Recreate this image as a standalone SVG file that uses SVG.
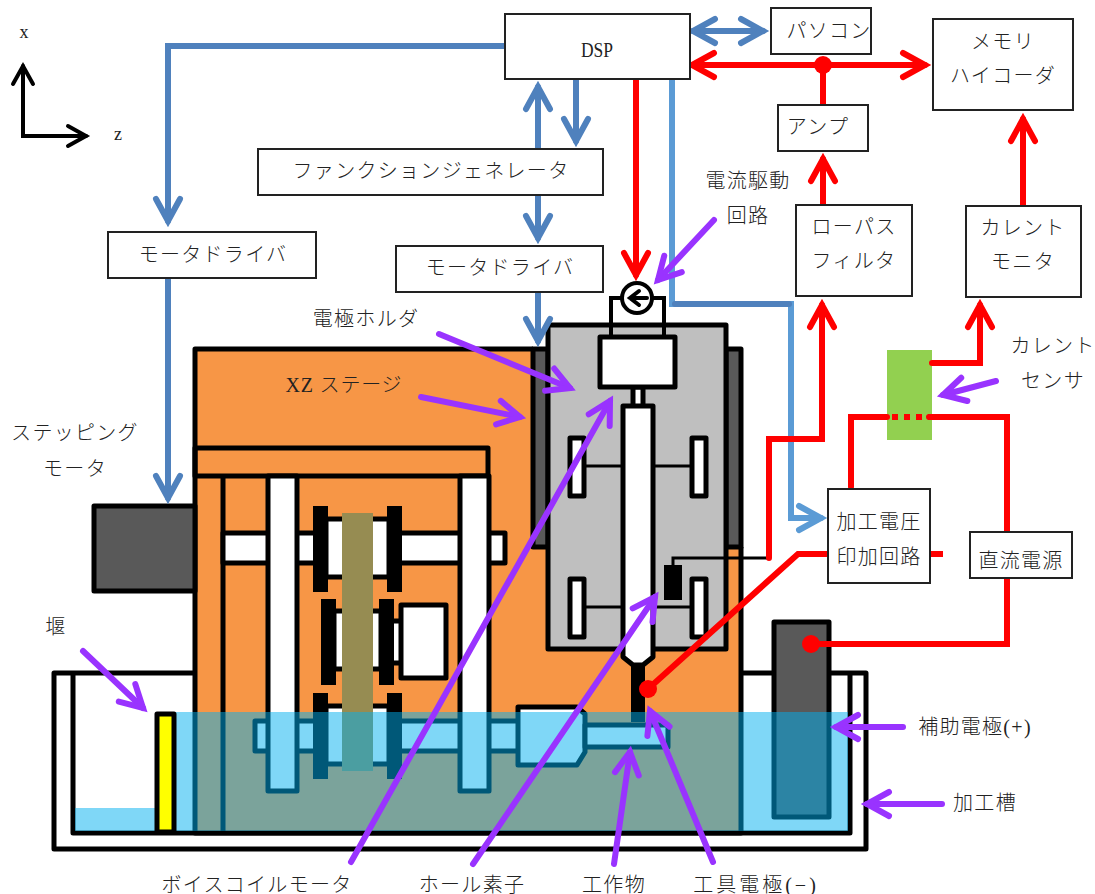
<svg xmlns="http://www.w3.org/2000/svg" width="1095" height="894" viewBox="0 0 1095 894">
<defs>
<style>
text{font-family:"Liberation Serif","Noto Sans CJK JP",serif;fill:#222;font-size:20px;text-anchor:middle;font-weight:300;letter-spacing:1.3px}
.box{fill:#fff;stroke:#222;stroke-width:2}
.k{stroke:#000;stroke-width:5;stroke-linejoin:round}
.w{fill:#fff}
.o{fill:#f79646}
.g{fill:#595959}
.b{fill:#000}
.n{fill:none}
.blue{fill:none;stroke:#4f81bd;stroke-width:6;stroke-linecap:round;stroke-linejoin:miter}
.lblue{fill:none;stroke:#5b9bd5;stroke-width:6;stroke-linecap:round;stroke-linejoin:miter}
.red{fill:none;stroke:#f00;stroke-width:6;stroke-linecap:round;stroke-linejoin:miter}
.pur{fill:none;stroke:#9933ff;stroke-width:6;stroke-linecap:round;marker-end:url(#ap)}
.blk{fill:none;stroke:#000;stroke-width:4;stroke-linecap:round}
.thin{fill:none;stroke:#000;stroke-width:3}
</style>
<marker id="ab" markerUnits="userSpaceOnUse" markerWidth="1" markerHeight="1" refX="0" refY="0" orient="auto-start-reverse" overflow="visible"><path d="M-22,-12L0,0L-22,12" fill="none" stroke="#4f81bd" stroke-width="6" stroke-linecap="round" stroke-miterlimit="6"/></marker>
<marker id="al" markerUnits="userSpaceOnUse" markerWidth="1" markerHeight="1" refX="0" refY="0" orient="auto-start-reverse" overflow="visible"><path d="M-22,-12L0,0L-22,12" fill="none" stroke="#5b9bd5" stroke-width="6" stroke-linecap="round" stroke-miterlimit="6"/></marker>
<marker id="ar" markerUnits="userSpaceOnUse" markerWidth="1" markerHeight="1" refX="0" refY="0" orient="auto-start-reverse" overflow="visible"><path d="M-22,-12L0,0L-22,12" fill="none" stroke="#f00" stroke-width="6" stroke-linecap="round" stroke-miterlimit="6"/></marker>
<marker id="ap" markerUnits="userSpaceOnUse" markerWidth="1" markerHeight="1" refX="0" refY="0" orient="auto-start-reverse" overflow="visible"><path d="M-22,-12L0,0L-22,12" fill="none" stroke="#9933ff" stroke-width="6" stroke-linecap="round" stroke-miterlimit="6"/></marker>
<marker id="ak" markerUnits="userSpaceOnUse" markerWidth="1" markerHeight="1" refX="0" refY="0" orient="auto-start-reverse" overflow="visible"><path d="M-18,-10L0,0L-18,10" fill="none" stroke="#000" stroke-width="4" stroke-linecap="round" stroke-miterlimit="6"/></marker>
</defs>

<g id="axes">
<path class="blk" d="M23,66V136H86" marker-start="url(#ak)" marker-end="url(#ak)"/>
<text x="24" y="38" style="font-size:18px;letter-spacing:0">x</text>
<text x="118" y="140" style="font-size:18px;letter-spacing:0">z</text>
</g>

<g id="tank">
<path class="w" d="M54,673H866V849H54Z"/>
<path class="n k" d="M195,673H54V849H866V673H741M73,673V833H850V673"/>
</g>

<g id="stage">
<rect class="o" x="195" y="349" width="546" height="484"/>
<path class="g k" d="M533,349H548V547H533Z"/>
<path class="g k" d="M726,349H741V547H726Z"/>
<path class="n k" d="M533,349H195V833H741V547"/>
<path class="n k" d="M195,448H488V476H195ZM223,476V833"/>
</g>

<g id="stepping-motor">
<rect class="g k" x="94" y="506" width="101" height="85"/>
</g>

<g id="shafts">
<rect class="w k" x="223" y="533" width="282" height="30"/>
<rect class="w k" x="255" y="721" width="265" height="30"/>
<rect class="w k" x="268" y="476" width="29" height="315"/>
<rect class="w k" x="460" y="476" width="29" height="315"/>
</g>

<g id="voice-coil-stage">
<rect class="w k" x="326" y="519" width="63" height="58"/>
<rect class="b" x="313" y="506" width="15" height="86"/>
<rect class="b" x="387" y="506" width="15" height="86"/>
<rect class="w k" x="390" y="621" width="14" height="42"/>
<rect class="w k" x="334" y="611" width="47" height="58"/>
<rect class="b" x="321" y="599" width="15" height="86"/>
<rect class="b" x="379" y="599" width="15" height="86"/>
<rect class="w k" x="401" y="605" width="45" height="73"/>
<rect class="w k" x="326" y="706" width="63" height="58"/>
<rect class="b" x="313" y="693" width="15" height="86"/>
<rect class="b" x="387" y="693" width="15" height="86"/>
<rect fill="#968c52" x="342" y="513" width="31" height="258"/>
</g>

<g id="workpiece">
<path class="w k" d="M518,707H577L585,714V752L577,765H518Z"/>
<rect class="w k" x="585" y="725" width="83" height="22"/>
</g>

<g id="electrode-holder">
<rect fill="#bfbfbf" class="k" x="548" y="325" width="178" height="324"/>
<rect class="w k" x="570" y="438" width="14" height="58"/>
<rect class="w k" x="692" y="438" width="14" height="58"/>
<rect class="w k" x="570" y="579" width="14" height="58"/>
<rect class="w k" x="692" y="579" width="14" height="58"/>
<path class="thin" d="M584,466H623M653,466H692M584,607H623M653,607H692"/>
<rect class="b" x="631" y="660" width="14" height="62"/>
<rect class="w k" x="633" y="387" width="10" height="20"/>
<path class="w k" d="M623,406H653V657L643,665H633L623,657Z"/>
<rect class="w k" x="600" y="337" width="75" height="50"/>
<rect class="b" x="664" y="565" width="18" height="35"/>
<path class="thin" d="M673,565V558H769"/>
<path class="n" stroke="#000" stroke-width="4" d="M611,337V298H664V337"/>
<circle class="w" stroke="#000" stroke-width="4" cx="637" cy="298" r="15"/>
<path class="blk" d="M647,298H630M639,291L630,298L639,305"/>
</g>

<g id="aux-electrode">
<rect class="g k" x="774" y="622" width="55" height="195"/>
</g>

<g id="water">
<path fill="#00b0f0" fill-opacity="0.5" d="M176,712H848V831H176ZM75,808H155V831H75Z"/>
</g>

<g id="dam">
<rect fill="#ff0" class="k" x="157" y="714" width="17" height="118"/>
</g>

<g id="current-sensor">
<rect fill="#92d050" x="887" y="350" width="45" height="90"/>
</g>

<g id="connectors">
<path class="blue" d="M505,46H168V221" marker-end="url(#ab)"/>
<path class="blue" d="M168,278V498" marker-end="url(#ab)"/>
<path class="blue" d="M693,31H763" marker-start="url(#ab)" marker-end="url(#ab)"/>
<path class="blue" d="M538,149V87" marker-end="url(#ab)"/>
<path class="blue" d="M576,79V141" marker-end="url(#ab)"/>
<path class="blue" d="M538,195V238" marker-end="url(#ab)"/>
<path class="blue" d="M538,292V341" marker-end="url(#ab)"/>
<path class="lblue" d="M672,79V304H791V518H821" marker-end="url(#al)"/>
<path class="blue" d="M675,304H789"/>
<path class="red" d="M692,65H925" marker-start="url(#ar)" marker-end="url(#ar)"/>
<circle fill="#f00" cx="823" cy="65" r="9"/>
<path class="red" d="M823,65V105"/>
<path class="red" d="M823,205V159" marker-end="url(#ar)"/>
<path class="red" d="M1023,205V119" marker-end="url(#ar)"/>
<path class="red" d="M636,79V275" marker-end="url(#ar)"/>
<path class="red" d="M769,558V439H822V305" marker-end="url(#ar)"/>
<path class="red" d="M932,363H980V305" marker-end="url(#ar)"/>
<path class="red" d="M851,487V417H887"/>
<path class="red" d="M929,417H1007V532"/>
<path fill="#f00" d="M892,414h6v6h-6zM904,414h6v6h-6zM916,414h6v6h-6zM928,414h4v6h-4z"/>
<path class="red" d="M828,554H798L648,689"/>
<circle fill="#f00" cx="648" cy="689" r="9"/>
<path class="red" d="M930,554H943" style="stroke-linecap:butt"/>
<path class="red" d="M1007,578V644H811"/>
<circle fill="#f00" cx="811" cy="644" r="9"/>
<path class="pur" d="M714,220L658,280"/>
<path class="pur" d="M439,334L570,388"/>
<path class="pur" d="M421,397L520,417"/>
<path class="pur" d="M351,862L610,401"/>
<path class="pur" d="M473,864L655,597"/>
<path class="pur" d="M614,864L630,752"/>
<path class="pur" d="M713,862L650,711"/>
<path class="pur" d="M903,727H836"/>
<path class="pur" d="M942,804H867"/>
<path class="pur" d="M996,381L943,395"/>
<path class="pur" d="M83,651L143,708"/>
</g>

<g id="dsp"><rect class="box" x="505" y="14" width="185" height="65"/><text x="597" y="57" textLength="32" lengthAdjust="spacingAndGlyphs" style="letter-spacing:0">DSP</text></g>
<g id="pc"><rect class="box" x="771" y="8" width="100" height="46"/><text x="829" y="38">パソコン</text></g>
<g id="recorder"><rect class="box" x="933" y="19" width="140" height="91"/><text x="1003" y="49">メモリ</text><text x="1003" y="83">ハイコーダ</text></g>
<g id="amp"><rect class="box" x="778" y="105" width="90" height="46"/><text x="818" y="134">アンプ</text></g>
<g id="lowpass"><rect class="box" x="796" y="205" width="116" height="91"/><text x="854" y="234">ローパス</text><text x="854" y="268">フィルタ</text></g>
<g id="current-monitor"><rect class="box" x="966" y="206" width="115" height="91"/><text x="1023" y="235">カレント</text><text x="1023" y="269">モニタ</text></g>
<g id="function-generator"><rect class="box" x="258" y="149" width="345" height="46"/><text x="431" y="178">ファンクションジェネレータ</text></g>
<g id="motor-driver-1"><rect class="box" x="108" y="232" width="208" height="46"/><text x="213" y="262">モータドライバ</text></g>
<g id="motor-driver-2"><rect class="box" x="396" y="246" width="207" height="46"/><text x="500" y="275">モータドライバ</text></g>
<g id="voltage-circuit"><rect class="box" x="828" y="489" width="102" height="94"/><text x="879" y="529">加工電圧</text><text x="879" y="564">印加回路</text></g>
<g id="dc-source"><rect class="box" x="970" y="532" width="102" height="46"/><text x="1021" y="568">直流電源</text></g>

<g id="labels">
<text x="748" y="188">電流駆動</text>
<text x="748" y="223">回路</text>
<text x="366" y="326">電極ホルダ</text>
<text x="344" y="392" style="letter-spacing:0.8px">XZ ステージ</text>
<text x="75" y="440">ステッピング</text>
<text x="75" y="476">モータ</text>
<text x="56" y="634">堰</text>
<text x="1053" y="353">カレント</text>
<text x="1053" y="388">センサ</text>
<text x="975" y="734">補助電極(+)</text>
<text x="985" y="810">加工槽</text>
<text x="257" y="892">ボイスコイルモータ</text>
<text x="472" y="892">ホール素子</text>
<text x="614" y="892">工作物</text>
<text x="756" y="892" style="letter-spacing:3px">工具電極(−)</text>
</g>
</svg>
